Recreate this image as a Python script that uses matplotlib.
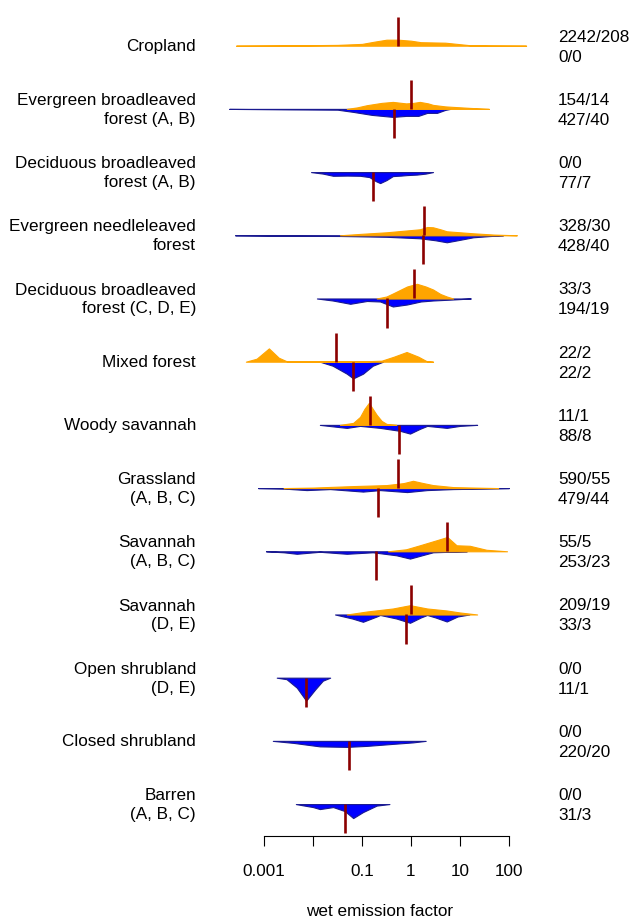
import matplotlib
matplotlib.use("Agg")
import matplotlib.pyplot as plt
import matplotlib.transforms as mtransforms
import numpy as np

plt.rcParams['font.family'] = ['Liberation Sans', 'DejaVu Sans']

# land cover classes, top to bottom
labels = ["Cropland", "Evergreen broadleaved\nforest (A, B)",
          "Deciduous broadleaved\nforest (A, B)", "Evergreen needleleaved\nforest",
          "Deciduous broadleaved\nforest (C, D, E)", "Mixed forest", "Woody savannah",
          "Grassland\n(A, B, C)", "Savannah\n(A, B, C)", "Savannah\n(D, E)",
          "Open shrubland\n(D, E)", "Closed shrubland", "Barren\n(A, B, C)"]

# counts (samples/studies): upper = orange half, lower = blue half
counts_top = ["2242/208", "154/14", "0/0", "328/30", "33/3", "22/2", "11/1",
              "590/55", "55/5", "209/19", "0/0", "0/0", "0/0"]
counts_bottom = ["0/0", "427/40", "77/7", "428/40", "194/19", "22/2", "88/8",
                 "479/44", "253/23", "33/3", "11/1", "220/20", "31/3"]

# median emission factors (None = no data)
median_top = [0.55, 1.0, None, 1.86, 1.15, 0.030, 0.145, 0.55, 5.5, 1.02, None, None, None]
median_bottom = [None, 0.45, 0.166, 1.78, 0.32, 0.065, 0.57, 0.21, 0.19, 0.79, 0.0072, 0.054, 0.045]

# density outlines: (log10 emission factor, height)
dens_top = [
    [(-3.57, 0), (-2.5, 0.3), (-1.5, 0.8), (-1.0, 1.8), (-0.75, 4), (-0.5, 6), (-0.26, 6),
     (0.0, 5), (0.2, 3.5), (0.7, 3), (1.0, 1.5), (1.2, 0.5), (1.6, 0.2), (2.35, 0)],
    [(-1.31, 0), (-1.1, 1.5), (-0.9, 3.7), (-0.6, 6), (-0.37, 7), (-0.1, 5.5), (0.05, 6),
     (0.18, 7), (0.35, 5.5), (0.45, 4), (0.7, 2.5), (0.86, 2), (1.2, 1), (1.59, 0)],
    None,
    [(-1.45, 0), (-1.0, 1.5), (-0.5, 3), (0.18, 6), (0.33, 8.3), (0.45, 8), (0.6, 6),
     (0.73, 4), (1.27, 2), (1.7, 0.7), (2.16, 0)],
    [(-0.7, 0), (-0.5, 2), (-0.37, 5), (-0.08, 12), (0.12, 14.7), (0.3, 12), (0.45, 9),
     (0.6, 4.5), (0.73, 2), (0.86, 0)],
    [(-3.37, 0), (-3.15, 3), (-2.9, 13.3), (-2.7, 4), (-2.54, 0.5), (-2.0, 0.3), (-1.0, 0.3),
     (-0.6, 1), (-0.35, 5), (-0.09, 9.7), (0.15, 5), (0.32, 0.5), (0.45, 0)],
    [(-1.45, 0), (-1.18, 2), (-1.04, 8), (-0.95, 16), (-0.86, 22), (-0.78, 16), (-0.7, 10),
     (-0.6, 4), (-0.5, 1), (-0.3, 0)],
    [(-2.6, 0), (-2.0, 0.5), (-1.18, 2), (-0.5, 3), (-0.15, 5), (0.04, 7.3), (0.25, 5),
     (0.45, 3), (0.86, 1), (1.3, 0.5), (1.78, 0)],
    [(-0.47, 0), (-0.1, 2), (0.18, 6), (0.52, 11), (0.74, 14.3), (0.93, 6), (1.2, 5.5),
     (1.54, 1.5), (1.96, 0)],
    [(-1.31, 0), (-0.9, 3), (-0.37, 6), (-0.02, 9.3), (0.33, 6), (0.73, 4), (1.0, 2), (1.35, 0)],
    None, None, None,
]
dens_bottom = [
    None,
    [(-3.71, 0), (-2.5, 0.5), (-1.5, 0.8), (-1.18, 3), (-0.8, 6), (-0.37, 8), (-0.1, 7),
     (0.15, 7), (0.33, 4), (0.53, 4), (0.7, 1), (0.8, 0)],
    [(-2.04, 0), (-1.8, 1.5), (-1.59, 3.7), (-1.3, 3.5), (-1.04, 3.7), (-0.85, 5), (-0.72, 9),
     (-0.63, 11), (-0.5, 8), (-0.37, 4), (-0.2, 3.5), (-0.08, 3), (0.12, 2.5), (0.3, 1.5), (0.45, 0)],
    [(-3.59, 0), (-2.5, 0.5), (-1.45, 0.7), (-0.5, 1.5), (0.18, 3), (0.5, 5), (0.73, 7),
     (0.95, 5), (1.27, 2), (1.6, 0.8), (1.88, 0)],
    [(-1.92, 0), (-1.6, 2), (-1.24, 5.3), (-0.9, 2.5), (-0.63, 3), (-0.37, 8), (-0.08, 6),
     (0.2, 3), (0.45, 2), (0.86, 1), (1.22, 0)],
    [(-1.86, 0), (-1.6, 4), (-1.31, 12), (-1.18, 16.7), (-0.98, 12), (-0.78, 4), (-0.57, 0)],
    [(-1.86, 0), (-1.5, 2), (-1.31, 3), (-1.04, 1), (-0.63, 3), (-0.22, 6), (-0.02, 8.7),
     (0.18, 4), (0.33, 1), (0.73, 3), (1.0, 1), (1.35, 0)],
    [(-3.12, 0), (-2.6, 0.5), (-2.13, 2), (-1.65, 1), (-0.98, 3.5), (-0.63, 2), (-0.08, 4),
     (0.33, 2), (0.86, 1), (1.5, 0.5), (2.0, 0)],
    [(-2.96, 0), (-2.6, 1), (-2.33, 2.5), (-1.86, 0.5), (-1.31, 2.5), (-0.78, 1), (-0.3, 4),
     (-0.02, 7.3), (0.3, 3), (0.45, 1), (1.14, 0)],
    [(-1.55, 0), (-1.2, 4), (-0.98, 7.3), (-0.7, 2), (-0.63, 0.5), (-0.3, 4), (-0.02, 8.3),
     (0.2, 3), (0.33, 0.5), (0.5, 3), (0.73, 7), (0.95, 2), (1.19, 0)],
    [(-2.74, 0), (-2.54, 1.5), (-2.33, 10), (-2.14, 23), (-1.96, 12), (-1.8, 3), (-1.65, 0)],
    [(-2.82, 0), (-2.4, 2), (-1.86, 5.5), (-1.31, 6), (-0.9, 5), (-0.37, 3), (0.04, 1.5), (0.3, 0)],
    [(-2.35, 0), (-2.0, 3), (-1.86, 5), (-1.59, 3), (-1.35, 7), (-1.18, 14), (-0.98, 8),
     (-0.7, 1.5), (-0.44, 0)],
]

ticks = [-3, -2, -1, 0, 1, 2]
tick_labels = ["0.001", "", "0.1", "1", "10", "100"]

orange = "#FFA500"
blue = "#0000FF"
dark_red = "#8B0000"
row_px = 63.2   # density heights were read in pixels
line_len = 0.46
fs = 12.3

fig = plt.figure(figsize=(6.33, 9.18), dpi=100)
ax = fig.add_axes([220 / 633, 82 / 918, 320 / 633, 836 / 918])
ax.set_xlim(-3.898, 2.633)
ax.set_ylim(-12.505, 0.723)

for i in range(len(labels)):
    y0 = -i
    if dens_bottom[i] is not None:
        d = np.array(dens_bottom[i])
        ax.fill_between(d[:, 0], y0, y0 - d[:, 1] / row_px, facecolor=blue,
                        edgecolor="#1a1a90", linewidth=0.8, zorder=2)
    if dens_top[i] is not None:
        d = np.array(dens_top[i])
        ax.fill_between(d[:, 0], y0, y0 + d[:, 1] / row_px, facecolor=orange,
                        edgecolor=orange, linewidth=0.8, zorder=2)
    if median_top[i] is not None:
        ax.plot([np.log10(median_top[i])] * 2, [y0, y0 + line_len], color=dark_red,
                lw=1.9, solid_capstyle="butt", zorder=3)
    if median_bottom[i] is not None:
        ax.plot([np.log10(median_bottom[i])] * 2, [y0, y0 - line_len], color=dark_red,
                lw=1.9, solid_capstyle="butt", zorder=3)

# labels on both sides
trans = mtransforms.blended_transform_factory(fig.transFigure, ax.transData)
for i, lab in enumerate(labels):
    ax.text(196 / 633, -i - 1 / row_px, lab, transform=trans, ha="right", va="center",
            fontsize=fs, linespacing=1.32)
    ax.text(558 / 633, -i + 8.5 / row_px, counts_top[i], transform=trans,
            ha="left", va="center", fontsize=fs)
    ax.text(558 / 633, -i - 11.5 / row_px, counts_bottom[i], transform=trans,
            ha="left", va="center", fontsize=fs)

for s in ["top", "left", "right"]:
    ax.spines[s].set_visible(False)
ax.spines["bottom"].set_bounds(-3, 2)
ax.spines["bottom"].set_linewidth(0.8)
ax.set_yticks([])
ax.set_xticks(ticks)
ax.set_xticklabels(tick_labels, fontsize=fs)
ax.tick_params(axis="x", length=7, width=0.8, pad=13.5)

fig.text(380 / 633, 1 - 911 / 918, "wet emission factor", ha="center", va="center", fontsize=fs)

fig.savefig("out.png", dpi=100)
